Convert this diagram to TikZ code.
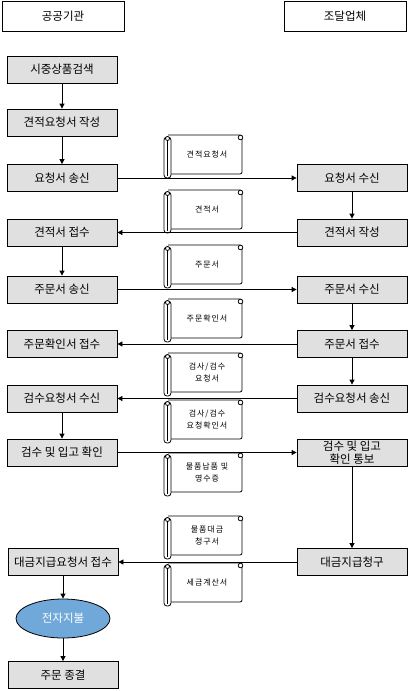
\documentclass[tikz,border=0pt]{standalone}
\usepackage{fontspec}
\setmainfont{Noto Sans CJK KR}
\newfontfamily\scrollfont[LetterSpace=12]{Noto Sans CJK KR}
\usetikzlibrary{arrows.meta,shapes.geometric}
\definecolor{boxfill}{HTML}{E0E0E0}
\definecolor{payfill}{HTML}{70A8DA}
\tikzset{
  headbox/.style={draw, line width=0.8pt, minimum width=122pt, minimum height=30pt,
                  inner sep=0pt, font=\fontsize{11.5}{13}\selectfont},
  stepbox/.style={draw, fill=boxfill, line width=0.8pt, minimum width=110pt,
                  minimum height=27pt, inner sep=0pt, align=center,
                  font=\fontsize{11.5}{13}\selectfont},
  paybox/.style={ellipse, draw, fill=payfill, text=white, line width=0.8pt,
                 minimum width=94pt, minimum height=39pt, inner sep=0pt,
                 font=\fontsize{11.5}{13}\selectfont},
  flow/.style={-{Triangle[length=5pt,width=5pt]}, line width=0.8pt},
  scrollline/.style={line width=0.8pt, fill=white},
  scrolltext/.style={align=center, inner sep=0pt,
                     font=\scrollfont\fontsize{8}{12}\selectfont},
}
% document scroll: #1 name, #2 top edge, #3 text
\newcommand{\docscroll}[3]{%
  \begin{scope}[shift={(164,#2)}]
    \draw[scrollline, rounded corners=2pt] (4,0) -- (78,0) -- (78,39) -- (7,39);
    \draw[scrollline] (76.5,2.5) circle[radius=2.3];
    \draw[scrollline, rounded corners=3pt] (0,2) rectangle (7,43);
    \draw[line width=0.6pt] (3,6) -- (3,41);
    \draw[scrollline] (3.5,3.5) circle[radius=2];
  \end{scope}
  \node[scrolltext] (#1) at (207,#2+19.5) {#3};
}

\begin{document}
\begin{tikzpicture}[x=1pt,y=-1pt]
  \useasboundingbox (0,0) rectangle (410,691);

  \node[headbox] (agency) at (63,16) {공공기관};
  \node[headbox] (vendor) at (345,16) {조달업체};

  % agency side
  \node[stepbox] (search) at (62,69.5) {시중상품검색};
  \node[stepbox] (rfqwrite) at (62,122.5) {견적요청서 작성};
  \node[stepbox] (rfqsend) at (62,178) {요청서 송신};
  \node[stepbox] (quoterecv) at (62,232.5) {견적서 접수};
  \node[stepbox] (ordersend) at (62,289.5) {주문서 송신};
  \node[stepbox] (ackrecv) at (62,344) {주문확인서 접수};
  \node[stepbox] (inspreqrecv) at (62,398.5) {검수요청서 수신};
  \node[stepbox] (inspcheck) at (62,452.5) {검수 및 입고 확인};
  \node[stepbox] (payreqrecv) at (63,562) {대금지급요청서 접수};
  \node[paybox] (epay) at (63,618.5) {전자지불};
  \node[stepbox] (closeout) at (63,675) {주문 종결};

  % vendor side
  \node[stepbox] (rfqrecv) at (352,178) {요청서 수신};
  \node[stepbox] (quotewrite) at (352,232.5) {견적서 작성};
  \node[stepbox] (orderrecv) at (352,289.5) {주문서 수신};
  \node[stepbox] (orderacc) at (352,344) {주문서 접수};
  \node[stepbox] (inspreqsend) at (352,398.5) {검수요청서 송신};
  \node[stepbox] (inspnotify) at (352,452.5) {검수 및 입고\\확인 통보};
  \node[stepbox] (payclaim) at (352,562) {대금지급청구};

  % documents
  \docscroll{doc1}{135}{견적요청서}
  \docscroll{doc2}{190}{견적서}
  \docscroll{doc3}{245}{주문서}
  \docscroll{doc4}{299}{주문확인서}
  \docscroll{doc5}{353}{검사/검수\\요청서}
  \docscroll{doc6}{400}{검사/검수\\요청확인서}
  \docscroll{doc7}{453}{물품납품 및\\영수증}
  \docscroll{doc8}{516}{물품대금\\청구서}
  \docscroll{doc9}{563}{세금계산서}

  \draw[flow] (search) -- (rfqwrite);
  \draw[flow] (rfqwrite) -- (rfqsend);
  \draw[flow] (rfqsend) -- (rfqrecv);
  \draw[flow] (rfqrecv) -- (quotewrite);
  \draw[flow] (quotewrite) -- (quoterecv);
  \draw[flow] (quoterecv) -- (ordersend);
  \draw[flow] (ordersend) -- (orderrecv);
  \draw[flow] (orderrecv) -- (orderacc);
  \draw[flow] (orderacc) -- (ackrecv);
  \draw[flow] (orderacc) -- (inspreqsend);
  \draw[flow] (inspreqsend) -- (inspreqrecv);
  \draw[flow] (inspreqrecv) -- (inspcheck);
  \draw[flow] (inspcheck) -- (inspnotify);
  \draw[flow] (inspnotify) -- (payclaim);
  \draw[flow] (payclaim) -- (payreqrecv);
  \draw[flow] (payreqrecv) -- (epay);
  \draw[flow] (epay) -- (closeout);
\end{tikzpicture}
\end{document}
